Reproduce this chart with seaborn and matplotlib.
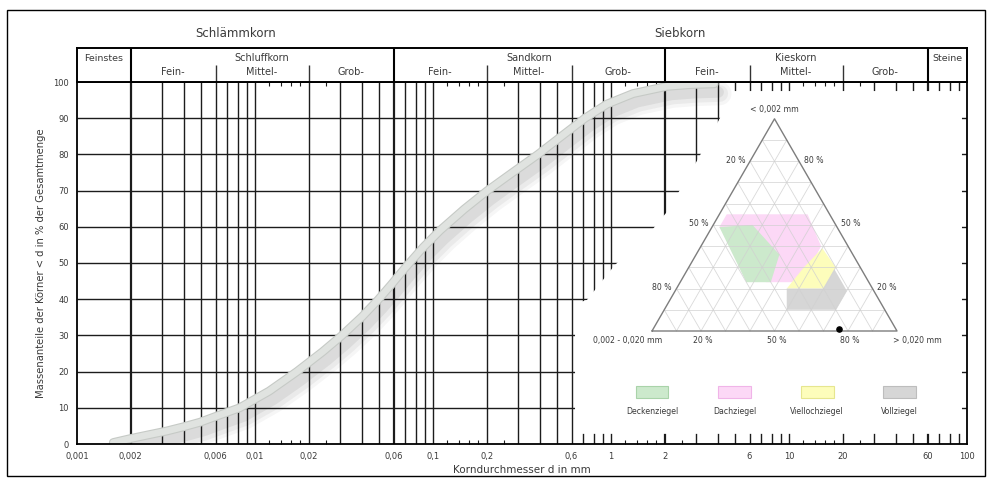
import numpy as np
import pandas as pd
import matplotlib
matplotlib.use('Agg')
import matplotlib.pyplot as plt
import matplotlib.patheffects as pe
from matplotlib.patches import Polygon, Rectangle
from matplotlib.ticker import NullFormatter
import seaborn as sns

# Körnungslinie
korn_d = [0.0016, 0.002, 0.0032, 0.004, 0.0049, 0.006, 0.0082, 0.012, 0.0172, 0.024,
          0.0308, 0.04, 0.0491, 0.058, 0.0696, 0.088, 0.1095, 0.15, 0.201, 0.28,
          0.389, 0.52, 0.714, 0.95, 1.33, 2.06, 2.8, 3.8]
masse_p = [0.4, 1.5, 3.6, 4.8, 6.0, 7.6, 10.0, 14.6, 20.0, 25.5,
           30.0, 35.2, 39.8, 43.9, 48.6, 54.3, 59.0, 64.9, 69.9, 75.0,
           80.0, 84.8, 90.0, 93.9, 96.8, 98.8, 99.3, 99.5]

x_tick_vals = [0.001, 0.002, 0.006, 0.01, 0.02, 0.06, 0.1, 0.2, 0.6, 1, 2, 6, 10, 20, 60, 100]
x_tick_labels = ['0,001', '0,002', '0,006', '0,01', '0,02', '0,06', '0,1', '0,2', '0,6',
                 '1', '2', '6', '10', '20', '60', '100']
y_tick_vals = list(range(0, 101, 10))

# grid of the DIN sieve chart
dekaden = [0.001, 0.01, 0.1, 1, 10]
linien_faktoren = [1, 2, 3, 4, 5, 6, 7, 8, 9]
kurz_faktoren = [1.2, 1.4, 1.6, 1.8, 2.5]

# header classes
haupt_grenzen = [0.002, 0.06, 2, 60]
unter_grenzen = [0.006, 0.02, 0.2, 0.6, 6, 20]
gruppen = ['Schluffkorn', 'Sandkorn', 'Kieskorn']
gruppen_bereich = [(0.002, 0.06), (0.06, 2), (2, 60)]
stufen = ['Fein-', 'Mittel-', 'Grob-']

# white area behind the inset (d in mm, %)
maske_d = [0.628, 0.628, 0.733, 1.05, 1.72, 2.06, 2.38, 3.08, 4.10, 4.20, 93.7, 93.7]
maske_p = [2.8, 38.7, 39.8, 49.4, 59.4, 64.1, 69.3, 78.7, 90.1, 97.5, 97.5, 2.8]

# ternary diagram, polygons as (sand %, clay %)
ziegel_namen = ['Deckenziegel', 'Dachziegel', 'Viellochziegel', 'Vollziegel']
ziegel_farben = ['#cce9cc', '#fcd8f6', '#fdfdbb', '#d6d6d6']
ziegel_kanten = ['#a9d3a9', '#f0b4e8', '#e6e68f', '#bdbdbd']
deckenziegel = [(3, 49), (16, 50), (34, 36), (37, 23), (27, 23)]
dachziegel = [(3, 55), (36, 55), (49, 40), (50, 23), (35, 23), (3, 49)]
viellochziegel = [(50, 39), (60, 30), (60, 20), (45, 20), (47, 30)]
vollziegel = [(45, 20), (60, 20), (60, 29), (70, 19), (70, 10), (50, 10)]
probe = (76, 1)
tern_prozent = [20, 50, 80]

sns.set_theme(style='white')
plt.rcParams['font.family'] = ['DejaVu Sans']
txt = '#3a3a3a'
linie = '#1c1c1c'

fig = plt.figure(figsize=(9.92, 4.8), dpi=100)
W, H = 992.0, 480.0
ax = fig.add_axes([77 / W, 1 - 444 / H, 890 / W, 362 / H])
ax.set_xscale('log')
ax.set_xlim(0.001, 100)
ax.set_ylim(0, 100)

# vertical lines
for dek in dekaden:
    for f in linien_faktoren:
        v = dek * f
        if v < 0.002 or v >= 100:
            continue
        lw = 1.6 if any(np.isclose(v, g) for g in haupt_grenzen) else 1.0
        ax.vlines(v, 0, 100, color=linie, lw=lw, zorder=1)
# horizontal lines
ax.hlines(y_tick_vals[1:-1], 0.001, 100, color=linie, lw=1.0, zorder=1)

# white mask behind the inset
ax.add_patch(Polygon(np.column_stack([maske_d, maske_p]), closed=True,
                     facecolor='white', edgecolor='none', zorder=1.5))

# grain size curve with soft shadow
kurve = pd.DataFrame({'d': korn_d, 'p': masse_p})
sns.lineplot(data=kurve, x='d', y='p', ax=ax, color='#e0e3e0', lw=4.8,
             solid_capstyle='round', zorder=3,
             path_effects=[pe.SimpleLineShadow(offset=(4, -7), shadow_color='k', alpha=0.035, linewidth=17),
                           pe.SimpleLineShadow(offset=(4, -7), shadow_color='k', alpha=0.05, linewidth=12),
                           pe.SimpleLineShadow(offset=(3, -6), shadow_color='k', alpha=0.07, linewidth=8),
                           pe.Stroke(linewidth=6.4, foreground='#c6cac6'),
                           pe.Normal()])
ax.set_xlabel('Korndurchmesser d in mm', fontsize=7.5, color=txt)
ax.set_ylabel('Massenanteile der Körner < d in % der Gesamtmenge', fontsize=7.2, color=txt)
ax.xaxis.set_label_coords(0.5, -0.058)
ax.yaxis.set_label_coords(-0.035, 0.5)

ax.set_xticks(x_tick_vals)
ax.set_xticklabels(x_tick_labels)
kurz = [d * f for d in dekaden[1:] for f in kurz_faktoren]
ax.set_xticks(kurz, minor=True)
ax.xaxis.set_minor_formatter(NullFormatter())
ax.set_yticks(y_tick_vals)
ax.tick_params(axis='both', which='major', length=0, labelsize=6, labelcolor=txt, pad=6)
ax.tick_params(axis='x', which='minor', direction='in', length=3, width=0.8,
               top=True, bottom=True, color=linie)
for s in ax.spines.values():
    s.set_color('black')
    s.set_linewidth(1.3)
    s.set_zorder(4)

# header with grain classes
hx = fig.add_axes([77 / W, 1 - 82 / H, 890 / W, 34 / H], sharex=ax)
hx.set_ylim(0, 1)
hx.set_yticks([])
hx.tick_params(axis='x', which='both', bottom=False, top=False, labelbottom=False)
for s in hx.spines.values():
    s.set_color('black')
    s.set_linewidth(1.4)
hx.vlines(haupt_grenzen, 0, 1, color='black', lw=1.5)
hx.vlines(unter_grenzen, 0, 0.5, color='#333333', lw=1.0)
hx.text(np.sqrt(0.001 * 0.002), 0.7, 'Feinstes', ha='center', va='center', fontsize=6.8, color=txt)
hx.text(np.sqrt(60 * 100), 0.7, 'Steine', ha='center', va='center', fontsize=6.8, color=txt)
for name, (a, b) in zip(gruppen, gruppen_bereich):
    hx.text(np.sqrt(a * b), 0.72, name, ha='center', va='center', fontsize=7, color=txt)
    grenzen = [a] + [u for u in unter_grenzen if a < u < b] + [b]
    for st, u, o in zip(stufen, grenzen[:-1], grenzen[1:]):
        hx.text(np.sqrt(u * o), 0.28, st, ha='center', va='center', fontsize=7, color=txt)
hx.text(np.sqrt(0.001 * 0.06), 1.44, 'Schlämmkorn', ha='center', va='center', fontsize=8.5,
        color=txt, clip_on=False)
hx.text(np.sqrt(0.06 * 100), 1.44, 'Siebkorn', ha='center', va='center', fontsize=8.5,
        color=txt, clip_on=False)

# ternary inset
px = 2.45
tx = fig.add_axes([577 / W, 1 - 430 / H, 385 / W, 335 / H])
tx.set_xlim((577 - 652) / px, (962 - 652) / px)
tx.set_ylim((331 - 430) / px, (331 - 95) / px)
tx.axis('off')
tx.patch.set_alpha(0)
r3 = np.sqrt(3) / 2


def tern(s, c):
    s = np.asarray(s, float)
    c = np.asarray(c, float)
    return s + c / 2, c * r3


for poly, fc in zip([dachziegel, deckenziegel, viellochziegel, vollziegel],
                    [ziegel_farben[1], ziegel_farben[0], ziegel_farben[2], ziegel_farben[3]]):
    s, c = zip(*poly)
    X, Y = tern(s, c)
    tx.add_patch(Polygon(np.column_stack([X, Y]), closed=True, facecolor=fc,
                         edgecolor='none', zorder=1))

for k in range(10, 100, 10):
    for (s0, c0), (s1, c1) in [((0, k), (100 - k, k)), ((k, 0), (k, 100 - k)), ((100 - k, 0), (0, 100 - k))]:
        X, Y = tern([s0, s1], [c0, c1])
        tx.plot(X, Y, color='#d0d0d0', lw=0.6, alpha=0.8, zorder=2)
X, Y = tern([0, 100, 0, 0], [0, 0, 100, 0])
tx.plot(X, Y, color='#7d7d7d', lw=1.0, zorder=3)
X, Y = tern([probe[0]], [probe[1]])
tx.scatter(X, Y, s=14, color='black', zorder=4)

fs = 5.6
tx.text(50, 88.5, '< 0,002 mm', ha='center', va='bottom', fontsize=fs, color=txt)
tx.text(-10, -4, '0,002 - 0,020 mm', ha='center', va='center', fontsize=fs, color=txt)
tx.text(108.5, -4, '> 0,020 mm', ha='center', va='center', fontsize=fs, color=txt)
for p in tern_prozent:
    tx.text(p + 0.8, -4, f'{p} %', ha='center', va='center', fontsize=fs, color=txt)
    Xl, Yl = tern(0, 100 - p)
    tx.text(Xl - 2, Yl + 0.5, f'{p} %', ha='right', va='center', fontsize=fs, color=txt)
    Xr, Yr = tern(100 - p, p)
    tx.text(Xr + 2, Yr + 0.5, f'{p} %', ha='left', va='center', fontsize=fs, color=txt)

# legend below the triangle
for i, (name, fc, ec) in enumerate(zip(ziegel_namen, ziegel_farben, ziegel_kanten)):
    xc = i * 33.7
    tx.add_patch(Rectangle((xc - 6.7, -27.4), 13.4, 4.9, facecolor=fc, edgecolor=ec, lw=0.8))
    tx.text(xc, -33, name, ha='center', va='center', fontsize=fs, color=txt)

# outer frame
fig.add_artist(Rectangle((7 / W, 4 / H), 978 / W, 466 / H, transform=fig.transFigure,
                         fill=False, edgecolor='black', lw=1.0))

fig.savefig('out.png', dpi=100, facecolor='white')
